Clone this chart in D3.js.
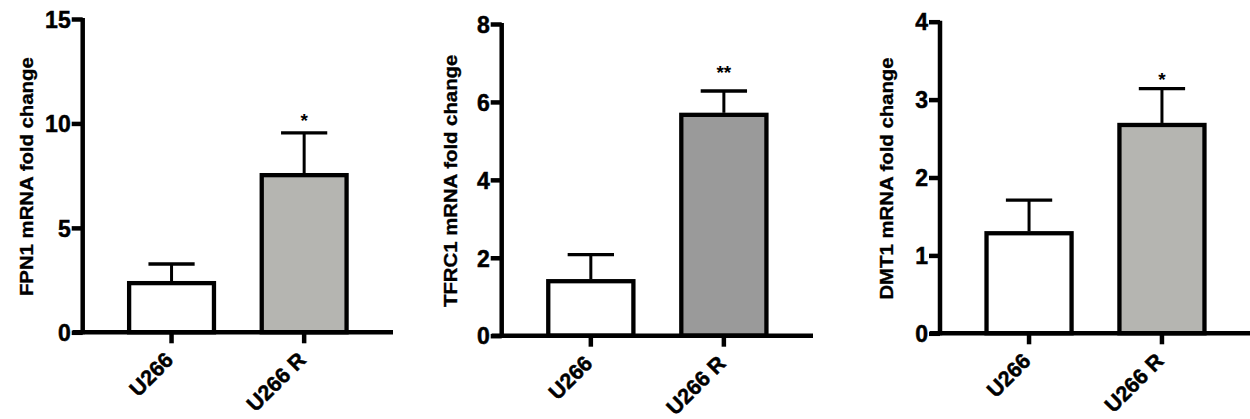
<!DOCTYPE html>
<html><head><meta charset="utf-8">
<script src="https://cdn.jsdelivr.net/npm/d3@7"></script>
<style>
html,body{margin:0;padding:0;background:#fff;}
svg{display:block;}
text{font-family:"Liberation Sans",Arial,sans-serif;font-weight:bold;fill:#000;}
</style></head>
<body><svg id="c" width="1250" height="419"></svg>
<script>
// ---- data ----
const categories = ["U266", "U266 R"];
const titles = ["FPN1 mRNA fold change", "TFRC1 mRNA fold change", "DMT1 mRNA fold change"];
const fpn1Values = [2.45, 7.62];
const fpn1Errors = [0.82, 1.93];
const tfrc1Values = [1.45, 5.72];
const tfrc1Errors = [0.63, 0.56];
const dmt1Values = [1.31, 2.70];
const dmt1Errors = [0.40, 0.44];
const fpn1Ticks = [0, 5, 10, 15];
const tfrc1Ticks = [0, 2, 4, 6, 8];
const dmt1Ticks = [0, 1, 2, 3, 4];
const significance = ["*", "**", "*"];
const sigLevels = [10.33, 6.87, 3.32];

const panels = [
  {title: titles[0], values: fpn1Values, errors: fpn1Errors, ticks: fpn1Ticks, sig: significance[0], sigY: sigLevels[0],
   ax: 82.7, y0: 332.3, y1: 19, xEnd: 393, fill: "#b5b5b1", titleX: 33},
  {title: titles[1], values: tfrc1Values, errors: tfrc1Errors, ticks: tfrc1Ticks, sig: significance[1], sigY: sigLevels[1],
   ax: 501.7, y0: 335.7, y1: 24, xEnd: 813, fill: "#9a9a9a", titleX: 457},
  {title: titles[2], values: dmt1Values, errors: dmt1Errors, ticks: dmt1Ticks, sig: significance[2], sigY: sigLevels[2],
   ax: 940, y0: 333.3, y1: 21.7, xEnd: 1251, fill: "#b5b5b1", titleX: 893}
];

const SY = 1.1; // title glyphs are slightly stretched along their length in the original
const svg = d3.select("#c");

panels.forEach(p => {
  const g = svg.append("g");
  const yMax = p.ticks[p.ticks.length - 1];
  const y = d3.scaleLinear().domain([0, yMax]).range([p.y0, p.y1]);
  const x = d3.scaleBand().domain(categories).range([p.ax, p.xEnd]).paddingInner(0.33).paddingOuter(0.335);

  const data = categories.map((c, i) => ({c, v: p.values[i], e: p.errors[i], i}));
  // error bars
  const eb = g.append("g");
  data.forEach(d => {
    const cx = x(d.c) + x.bandwidth() / 2;
    const capW = x.bandwidth() * 0.52;
    eb.append("line").attr("x1", cx).attr("x2", cx).attr("y1", y(d.v)).attr("y2", y(d.v + d.e))
      .attr("stroke", "#000").attr("stroke-width", 3);
    eb.append("line").attr("x1", cx - capW / 2).attr("x2", cx + capW / 2).attr("y1", y(d.v + d.e)).attr("y2", y(d.v + d.e))
      .attr("stroke", "#000").attr("stroke-width", 3.3);
  });
  // bars
  g.selectAll("rect.bar").data(data).join("rect")
    .attr("x", d => x(d.c) + 2).attr("width", x.bandwidth() - 4)
    .attr("y", d => y(d.v) + 2).attr("height", d => y(0) - y(d.v) - 2)
    .attr("fill", d => d.i === 0 ? "#fff" : p.fill)
    .attr("stroke", "#000").attr("stroke-width", 4.3);

  // y axis
  const ya = g.append("g").attr("transform", `translate(${p.ax},0)`)
    .call(d3.axisLeft(y).tickValues(p.ticks).tickFormat(d3.format("d")).tickSize(11).tickSizeOuter(0).tickPadding(1));
  ya.select(".domain").attr("stroke-width", 4.5).attr("d", `M0,${p.y0 + 2}V${p.y1 - 1}`);
  ya.selectAll(".tick line").attr("stroke-width", 4.5);
  ya.selectAll(".tick text").attr("font-size", 23).attr("font-family", null).attr("dy", "0.36em")
    .attr("stroke", "#000").attr("stroke-width", 0.5);

  // x axis
  const xa = g.append("g").attr("transform", `translate(0,${p.y0})`)
    .call(d3.axisBottom(x).tickSize(11).tickSizeOuter(0).tickFormat(""));
  xa.select(".domain").attr("stroke-width", 4.5).attr("d", `M${p.ax - 10},0H${p.xEnd}`);
  xa.selectAll(".tick line").attr("stroke-width", 4.5);
  xa.selectAll(".tick").append("text")
    .attr("font-size", 21.5).attr("text-anchor", "end")
    .attr("stroke", "#000").attr("stroke-width", 0.5)
    .attr("transform", `translate(3,29) rotate(-45)`)
    .text(d => d);

  // significance
  const last = data[1];
  g.append("text").attr("x", x(last.c) + x.bandwidth() / 2)
    .attr("y", y(p.sigY) + 0.57 * 19)
    .attr("text-anchor", "middle").attr("font-size", 19).attr("font-weight", "normal")
    .text(p.sig);

  // y title
  g.append("text")
    .attr("transform", `translate(${p.titleX},${(p.y0 + p.y1) / 2 + 1}) scale(1,${SY}) rotate(-90)`)
    .attr("text-anchor", "middle").attr("font-size", 18.5)
    .attr("stroke", "#000").attr("stroke-width", 0.35)
    .text(p.title);
});
</script></body></html>
